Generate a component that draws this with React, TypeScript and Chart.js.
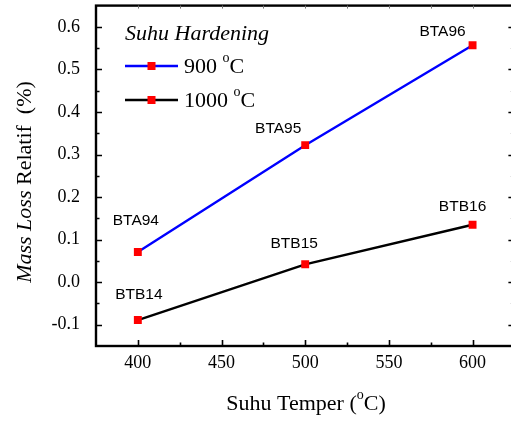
import React, { useEffect, useRef } from "react";
import { Chart, registerables } from "chart.js";

Chart.register(...registerables);

// ---- data ----
const temperatures = [400, 500, 600];
const massLoss900 = [0.071, 0.322, 0.557];
const massLoss1000 = [-0.089, 0.042, 0.135];
const sampleLabels900 = ["BTA94", "BTA95", "BTA96"];
const sampleLabels1000 = ["BTB14", "BTB15", "BTB16"];
const seriesNames = ["900", "1000"];
const yTickValues = [-0.1, 0.0, 0.1, 0.2, 0.3, 0.4, 0.5, 0.6];
const xTickValues = [400, 450, 500, 550, 600];
const legendTitle = "Suhu Hardening";
const xTitle = ["Suhu Temper (", "o", "C)"];
const yTitleItalic = "Mass Loss";
const yTitleNormal = " Relatif  (%)";

// label offsets from their point (pixels)
const labelOffsets = [
  [[-2, -31], [-27, -16], [-30, -13]],
  [[1, -25], [-11, -21], [-10, -18]],
];

const SERIF = "'Liberation Serif', 'Times New Roman', serif";
const SANS = "'Liberation Sans', Arial, sans-serif";

function midpoints(arr: number[], lo: number, hi: number) {
  const step = arr[1] - arr[0];
  const out: number[] = [];
  for (let i = 0; i < arr.length; i++) {
    const a = arr[i] - step / 2;
    const b = arr[i] + step / 2;
    if (a > lo + 1e-9 && !out.some((v) => Math.abs(v - a) < 1e-9)) out.push(a);
    if (b < hi - 1e-9 && !out.some((v) => Math.abs(v - b) < 1e-9)) out.push(b);
  }
  return out;
}

const pointLabelPlugin = {
  id: "pointLabels",
  afterDatasetsDraw(chart: any) {
    const ctx = chart.ctx;
    const labelSets = [sampleLabels900, sampleLabels1000];
    ctx.save();
    ctx.font = `15.5px ${SANS}`;
    ctx.fillStyle = "#000";
    ctx.textAlign = "center";
    ctx.textBaseline = "middle";
    chart.data.datasets.forEach((_d: any, i: number) => {
      const meta = chart.getDatasetMeta(i);
      meta.data.forEach((pt: any, j: number) => {
        const [dx, dy] = labelOffsets[i][j];
        ctx.fillText(labelSets[i][j], pt.x + dx, pt.y + dy);
      });
    });
    ctx.restore();
  },
};

function drawSupText(ctx: CanvasRenderingContext2D, x: number, y: number, parts: string[], size: number, measureOnly = false) {
  const norm = `${size}px ${SERIF}`;
  const sup = `${Math.round(size * 0.62)}px ${SERIF}`;
  ctx.font = norm;
  const w0 = ctx.measureText(parts[0]).width;
  ctx.font = sup;
  const w1 = ctx.measureText(parts[1]).width;
  ctx.font = norm;
  const w2 = ctx.measureText(parts[2]).width;
  const total = w0 + w1 + w2;
  if (measureOnly) return total;
  ctx.textAlign = "left";
  ctx.textBaseline = "middle";
  ctx.font = norm;
  ctx.fillText(parts[0], x, y);
  ctx.font = sup;
  ctx.fillText(parts[1], x + w0, y - size * 0.38);
  ctx.font = norm;
  ctx.fillText(parts[2], x + w0 + w1, y);
  return total;
}

const framePlugin = {
  id: "frame",
  afterDraw(chart: any) {
    const { ctx, chartArea: a, scales } = chart;
    const xs = scales.x;
    const ys = scales.y;
    ctx.save();
    ctx.strokeStyle = "#000";
    ctx.lineWidth = 2.4;
    ctx.strokeRect(a.left, a.top, a.right - a.left, a.bottom - a.top);

    const yMinor = midpoints(yTickValues, ys.min, ys.max);
    const xMinor = midpoints(xTickValues, xs.min, xs.max);
    ctx.lineWidth = 1.6;
    ctx.beginPath();
    yTickValues.forEach((v) => {
      const y = Math.round(ys.getPixelForValue(v)) + 0.5;
      ctx.moveTo(a.left, y); ctx.lineTo(a.left + 6, y);
      ctx.moveTo(a.right, y); ctx.lineTo(a.right - 6, y);
    });
    yMinor.forEach((v) => {
      const y = Math.round(ys.getPixelForValue(v)) + 0.5;
      ctx.moveTo(a.left, y); ctx.lineTo(a.left + 3.5, y);
      ctx.moveTo(a.right, y); ctx.lineTo(a.right - 3.5, y);
    });
    xTickValues.forEach((v) => {
      const x = Math.round(xs.getPixelForValue(v)) + 0.5;
      ctx.moveTo(x, a.bottom); ctx.lineTo(x, a.bottom - 6);
    });
    xMinor.forEach((v) => {
      const x = Math.round(xs.getPixelForValue(v)) + 0.5;
      ctx.moveTo(x, a.bottom); ctx.lineTo(x, a.bottom - 3.5);
    });
    ctx.stroke();
    ctx.lineWidth = 1;
    ctx.strokeStyle = "#777";
    ctx.beginPath();
    [...xTickValues, ...xMinor].forEach((v) => {
      const x = Math.round(xs.getPixelForValue(v)) + 0.5;
      ctx.moveTo(x, a.top); ctx.lineTo(x, a.top + 3);
    });
    ctx.stroke();

    // legend
    ctx.fillStyle = "#000";
    ctx.font = `italic 22px ${SERIF}`;
    ctx.textAlign = "left";
    ctx.textBaseline = "middle";
    ctx.fillText(legendTitle, 125, 34);
    const rows = [66, 100];
    chart.data.datasets.forEach((ds: any, i: number) => {
      const y = rows[i];
      ctx.strokeStyle = ds.borderColor;
      ctx.lineWidth = 2.4;
      ctx.beginPath();
      ctx.moveTo(125, y); ctx.lineTo(178, y);
      ctx.stroke();
      ctx.fillStyle = ds.pointBackgroundColor;
      ctx.fillRect(151.5 - 4, y - 4, 8, 8);
      ctx.fillStyle = "#000";
      drawSupText(ctx, 184, y + 1, [seriesNames[i] + " ", "o", "C"], 22);
    });

    // x title
    const w = drawSupText(ctx, 0, 0, xTitle, 22, true) as number;
    drawSupText(ctx, 306 - w / 2, 404, xTitle, 22);

    // y title (rotated)
    ctx.save();
    ctx.translate(25, 182);
    ctx.rotate(-Math.PI / 2);
    ctx.textBaseline = "middle";
    ctx.textAlign = "left";
    ctx.font = `italic 22px ${SERIF}`;
    const wi = ctx.measureText(yTitleItalic).width;
    ctx.font = `22px ${SERIF}`;
    const wn = ctx.measureText(yTitleNormal).width;
    const start = -(wi + wn) / 2;
    ctx.font = `italic 22px ${SERIF}`;
    ctx.fillText(yTitleItalic, start, 0);
    ctx.font = `22px ${SERIF}`;
    ctx.fillText(yTitleNormal, start + wi, 0);
    ctx.restore();

    ctx.restore();
  },
};

export default function App() {
  const ref = useRef<HTMLCanvasElement | null>(null);

  useEffect(() => {
    if (!ref.current) return;
    const mk = (vals: number[]) => temperatures.map((t, i) => ({ x: t, y: vals[i] }));
    const common = {
      borderWidth: 2.4,
      pointStyle: "rect",
      pointRadius: 5.6,
      pointBackgroundColor: "#ff0000",
      pointBorderWidth: 0,
      pointBorderColor: "#ff0000",
      tension: 0,
    };
    const chart = new Chart(ref.current, {
      type: "line",
      data: {
        datasets: [
          { label: "900 °C", data: mk(massLoss900), borderColor: "#0000ff", ...common },
          { label: "1000 °C", data: mk(massLoss1000), borderColor: "#000000", ...common },
        ],
      },
      options: {
        responsive: false,
        animation: false,
        devicePixelRatio: 1,
        layout: { padding: { top: 5, left: 0, right: 4, bottom: 0 } },
        plugins: { legend: { display: false }, tooltip: { enabled: false } },
        scales: {
          x: {
            type: "linear",
            min: 375,
            max: 625,
            grid: { display: false, drawTicks: false },
            border: { display: false },
            afterBuildTicks: (s: any) => { s.ticks = xTickValues.map((v) => ({ value: v })); },
            afterFit: (s: any) => { s.height = 75; s.paddingLeft = 0; s.paddingRight = 0; },
            ticks: {
              padding: 6,
              color: "#000",
              font: { family: SERIF, size: 18 },
              maxRotation: 0,
              autoSkip: false,
              callback: (v: any) => String(v),
            },
          },
          y: {
            type: "linear",
            min: -0.15,
            max: 0.65,
            grid: { display: false, drawTicks: false },
            border: { display: false },
            afterBuildTicks: (s: any) => { s.ticks = yTickValues.map((v) => ({ value: v })); },
            afterFit: (s: any) => { s.width = 96; s.paddingTop = 0; s.paddingBottom = 0; },
            ticks: {
              padding: 16,
              color: "#000",
              font: { family: SERIF, size: 18 },
              autoSkip: false,
              callback: (v: any) => Number(v).toFixed(1),
            },
          },
        },
      },
      plugins: [pointLabelPlugin, framePlugin],
    } as any);
    return () => chart.destroy();
  }, []);

  return (
    <div style={{ position: "fixed", left: 0, top: 0, width: 511, height: 421, overflow: "hidden", background: "#fff" }}>
      <canvas ref={ref} width={520} height={421} style={{ width: 520, height: 421, display: "block" }} />
    </div>
  );
}
